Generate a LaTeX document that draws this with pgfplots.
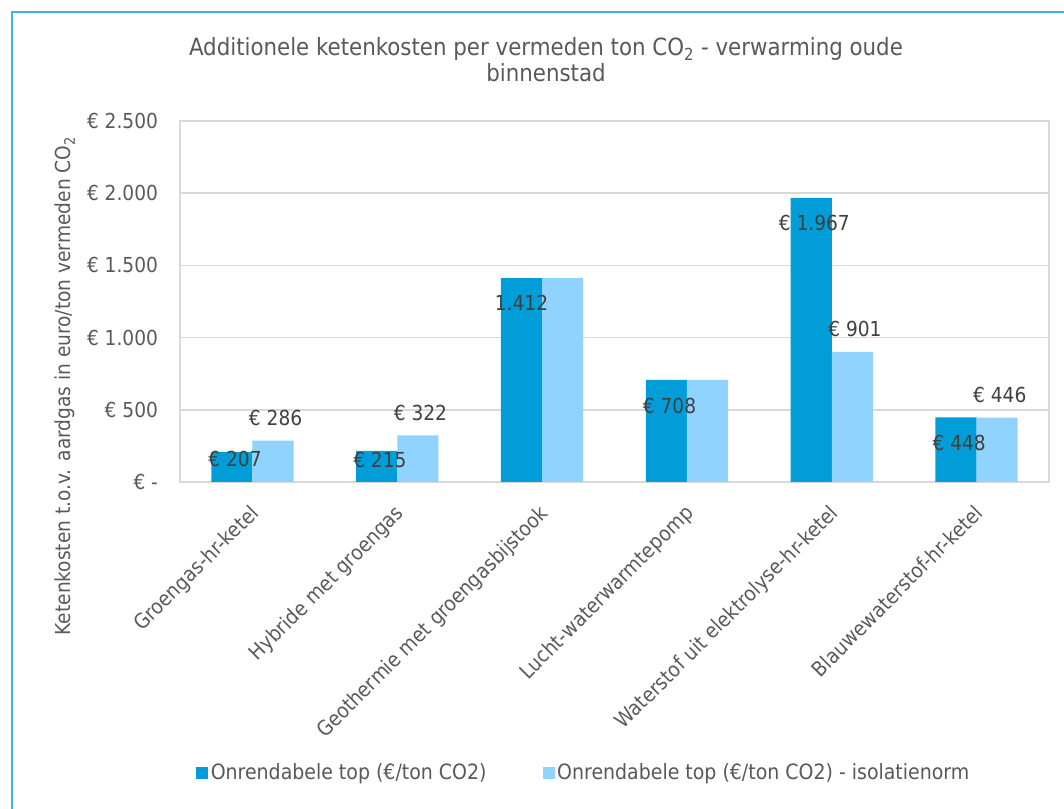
\documentclass[border=0pt]{standalone}
\usepackage{pgfplots}
\pgfplotsset{compat=1.18}
\usepackage{fontspec}
\setmainfont{DejaVu Sans Condensed}
\definecolor{darkbar}{RGB}{0,157,216}
\definecolor{lightbar}{RGB}{143,211,254}
\definecolor{frameblue}{RGB}{64,178,228}
\definecolor{txt}{RGB}{89,89,89}
\definecolor{lbl}{RGB}{64,64,64}
\definecolor{gridc}{RGB}{217,217,217}
\newcommand{\fs}{\fontsize{15.5pt}{18pt}\selectfont}
\begin{document}
\begin{tikzpicture}[x=0.75pt,y=0.75pt]
\useasboundingbox (0,0) rectangle (1064,809);
\draw[frameblue, line width=1.5pt] (12,-20) -- (12,797) -- (1090,797);
\node[align=center, text=txt, font=\fontsize{17.8pt}{19.5pt}\selectfont] at (546,749)
  {Additionele ketenkosten per vermeden ton CO\textsubscript{2} - verwarming oude\\binnenstad};
\node[rotate=90, text=txt, font=\fs] at (65,423)
  {Ketenkosten t.o.v. aardgas in euro/ton vermeden CO\textsubscript{2}};
\begin{axis}[
  at={(135pt,245.25pt)}, anchor=south west,
  scale only axis, width=651.75pt, height=270.75pt,
  xmin=-0.5, xmax=5.5, ymin=0, ymax=2500,
  ytick={0,500,1000,1500,2000,2500},
  yticklabels={€ -, € 500, € 1.000, € 1.500, € 2.000, € 2.500},
  xtick={0,1,2,3,4,5},
  xticklabels={Groengas-hr-ketel, Hybride met groengas, Geothermie met groengasbijstook, Lucht-waterwarmtepomp, Waterstof uit elektrolyse-hr-ketel, Blauwewaterstof-hr-ketel},
  x tick label style={xshift=-2.7pt, yshift=-11pt, rotate=45, anchor=north east, font=\fs, text=txt},
  y tick label style={font=\fs, text=txt, xshift=-13pt},
  ymajorgrids, grid style={gridc, line width=1.1pt},
  axis line style={gridc, line width=1.1pt},
  major tick length=0pt,
  legend columns=2,
  legend style={at={(0.465,-0.806)}, anchor=center, draw=none, font=\fontsize{15.8pt}{18pt}\selectfont, text=txt,
    /tikz/every even column/.append style={column sep=40pt}},
]
\addplot[ybar, fill=darkbar, draw=none, bar width=0.284, bar shift=-0.142,
  legend image code/.code={\fill[darkbar] (0pt,-4.5pt) rectangle (9pt,4.5pt);}]
  coordinates {(0,207) (1,215) (2,1412) (3,708) (4,1967) (5,448)};
\addlegendentry{Onrendabele top (€/ton CO2)}
\addplot[ybar, fill=lightbar, draw=none, bar width=0.284, bar shift=0.142,
  legend image code/.code={\fill[lightbar] (0pt,-4.5pt) rectangle (9pt,4.5pt);}]
  coordinates {(0,286) (1,322) (2,1412) (3,708) (4,901) (5,446)};
\addlegendentry{Onrendabele top (€/ton CO2) - isolatienorm}
\addplot[forget plot, draw=none, mark=none, nodes near coords, point meta=explicit symbolic,
  nodes near coords style={anchor=center, font=\fs, text=lbl, inner sep=0pt}]
  coordinates {(-0.12,157) [€ 207] (0.88,152) [€ 215] (1.858,1240) [1.412] (2.88,526) [€ 708] (3.88,1794) [€ 1.967] (4.88,270) [€ 448]};
\addplot[forget plot, draw=none, mark=none, nodes near coords, point meta=explicit symbolic,
  nodes near coords style={anchor=center, font=\fs, text=lbl, inner sep=0pt}]
  coordinates {(0.16,443) [€ 286] (1.16,478) [€ 322] (4.16,1060) [€ 901] (5.16,602) [€ 446]};
\end{axis}
\end{tikzpicture}
\end{document}
